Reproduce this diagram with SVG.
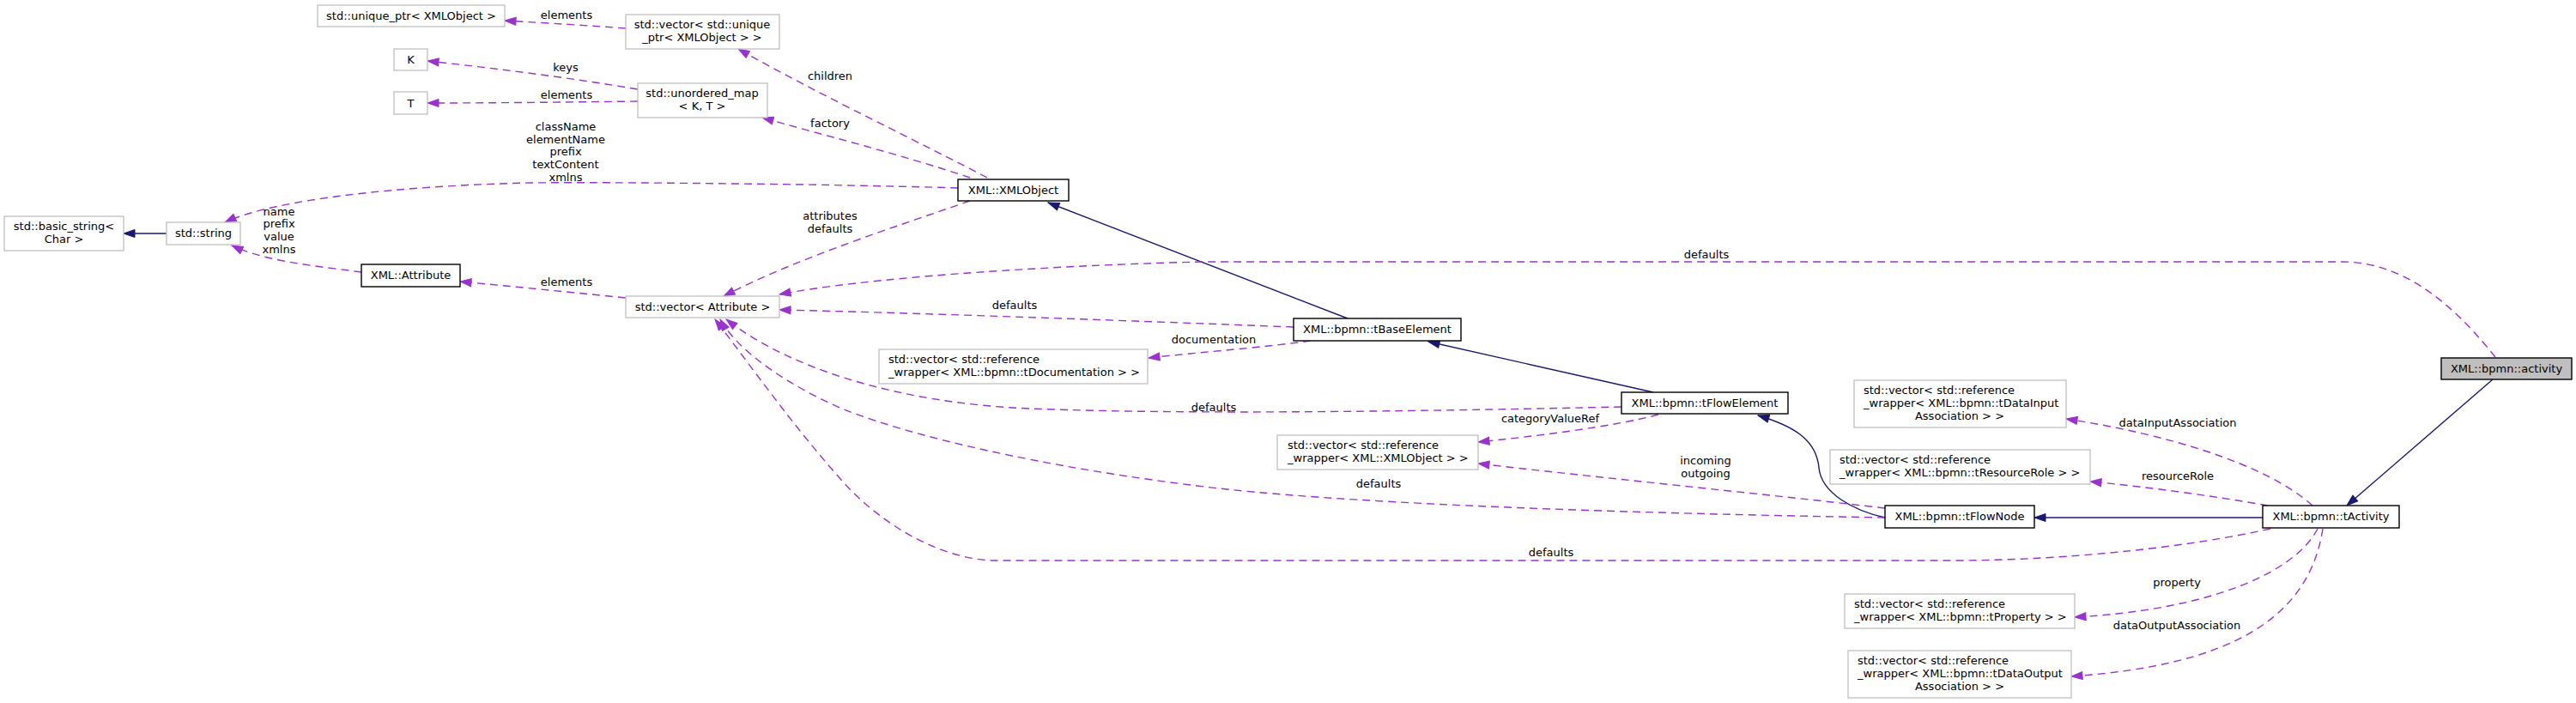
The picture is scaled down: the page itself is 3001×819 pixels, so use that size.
<svg xmlns="http://www.w3.org/2000/svg" width="3001" height="819" viewBox="0 0 3001 819">
<style>
text{font-family:"DejaVu Sans","Liberation Sans",sans-serif;font-size:13px;fill:#000}
.c{text-anchor:middle}
.s{text-anchor:start}
.g{fill:#fff;stroke:#bfbfbf;stroke-width:1.3}
.b{fill:#fff;stroke:#000;stroke-width:1.4}
.a{fill:#bfbfbf;stroke:#000;stroke-width:1.4}
.e{fill:none;stroke:#9a32cd;stroke-width:1.4;stroke-dasharray:9,6}
.i{fill:none;stroke:#191970;stroke-width:1.4}
</style>
<defs>
<marker id="mp" markerUnits="userSpaceOnUse" markerWidth="15" markerHeight="11" refX="14" refY="5.5" orient="auto">
<path d="M1,1 L14,5.5 L1,10 z" fill="#9a32cd" stroke="#9a32cd" stroke-width="1"/>
</marker>
<marker id="mn" markerUnits="userSpaceOnUse" markerWidth="15" markerHeight="11" refX="14" refY="5.5" orient="auto">
<path d="M1,1 L14,5.5 L1,10 z" fill="#191970" stroke="#191970" stroke-width="1"/>
</marker>
</defs>
<rect width="3001" height="819" fill="#fff"/>
<g id="edges">
<path class="e" marker-end="url(#mp)" d="M729,33 C690,30 640,27 588,24"/>
<path class="e" marker-end="url(#mp)" d="M1150,207 C1080,170 950,108 860,57"/>
<path class="e" marker-end="url(#mp)" d="M1130,207 C1050,180 950,155 888,137"/>
<path class="e" marker-end="url(#mp)" d="M743,104 C660,90 580,80 498,71"/>
<path class="e" marker-end="url(#mp)" d="M743,118 C660,119 580,120 498,120"/>
<path class="e" marker-end="url(#mp)" d="M1116,219 C950,214 700,212 620,213 C470,216 320,232 262,259"/>
<path class="e" marker-end="url(#mp)" d="M421,317 C370,310 310,305 270,286"/>
<path class="i" marker-end="url(#mn)" d="M194,272 L144,272"/>
<path class="e" marker-end="url(#mp)" d="M729,347 C660,340 600,334 536,328"/>
<path class="e" marker-end="url(#mp)" d="M1130,234 C1050,262 930,300 843,345"/>
<path class="i" marker-end="url(#mn)" d="M1570,371 L1221,236"/>
<path class="e" marker-end="url(#mp)" d="M1507,381 C1300,373 1050,364 908,361"/>
<path class="e" marker-end="url(#mp)" d="M1527,397 C1470,405 1400,410 1338,417"/>
<path class="i" marker-end="url(#mn)" d="M1926,457 L1664,398"/>
<path class="e" marker-end="url(#mp)" d="M1889,474 C1700,478 1400,484 1200,476 C1050,470 920,430 846,372"/>
<path class="e" marker-end="url(#mp)" d="M1932,483 C1880,497 1790,508 1722,515"/>
<path class="i" marker-end="url(#mn)" d="M2196,603 C2160,595 2122,575 2119,545 C2116,510 2085,495 2048,484"/>
<path class="e" marker-end="url(#mp)" d="M2196,592 C2050,575 1850,555 1722,540"/>
<path class="e" marker-end="url(#mp)" d="M2196,603 C1900,598 1600,588 1429,570 C1250,550 1080,515 983,477 C920,450 860,410 839,372"/>
<path class="i" marker-end="url(#mn)" d="M2636,603 L2370,603"/>
<path class="e" marker-end="url(#mp)" d="M2645,616 C2560,635 2420,653 2272,653 L1155,653 C1100,650 1040,620 990,570 C930,505 870,420 833,372"/>
<path class="e" marker-end="url(#mp)" d="M2907,416 C2870,370 2810,305 2729,305 L1400,305 C1200,310 1000,325 908,343"/>
<path class="i" marker-end="url(#mn)" d="M2904,442 L2734,589"/>
<path class="e" marker-end="url(#mp)" d="M2694,589 C2640,540 2520,505 2407,488"/>
<path class="e" marker-end="url(#mp)" d="M2642,589 C2580,578 2500,567 2435,561"/>
<path class="e" marker-end="url(#mp)" d="M2700,616 C2675,665 2580,710 2417,719"/>
<path class="e" marker-end="url(#mp)" d="M2706,616 C2690,720 2600,775 2413,788"/>
</g>
<g id="labels">
<text class="c" x="660" y="22">elements</text>
<text class="c" x="967" y="93">children</text>
<text class="c" x="659" y="83">keys</text>
<text class="c" x="660" y="115">elements</text>
<text class="c" x="967" y="148">factory</text>
<text class="c" x="659" y="152">className</text>
<text class="c" x="659" y="167">elementName</text>
<text class="c" x="659" y="181">prefix</text>
<text class="c" x="659" y="196">textContent</text>
<text class="c" x="659" y="211">xmlns</text>
<text class="c" x="325" y="251">name</text>
<text class="c" x="325" y="265">prefix</text>
<text class="c" x="325" y="280">value</text>
<text class="c" x="325" y="295">xmlns</text>
<text class="c" x="660" y="333">elements</text>
<text class="c" x="967" y="256">attributes</text>
<text class="c" x="967" y="271">defaults</text>
<text class="c" x="1988" y="301">defaults</text>
<text class="c" x="1182" y="360">defaults</text>
<text class="c" x="1414" y="400">documentation</text>
<text class="c" x="1414" y="479">defaults</text>
<text class="c" x="1806" y="492">categoryValueRef</text>
<text class="c" x="1987" y="541">incoming</text>
<text class="c" x="1987" y="556">outgoing</text>
<text class="c" x="1606" y="568">defaults</text>
<text class="c" x="1807" y="648">defaults</text>
<text class="c" x="2537" y="497">dataInputAssociation</text>
<text class="c" x="2537" y="559">resourceRole</text>
<text class="c" x="2536" y="683">property</text>
<text class="c" x="2536" y="733">dataOutputAssociation</text>
</g>
<g id="n_unique_ptr"><rect class="g" x="370" y="6" width="218" height="25"/><text class="c" x="479" y="23">std::unique_ptr&lt; XMLObject &gt;</text></g>
<g id="n_vec_unique"><rect class="g" x="729" y="17" width="179" height="40"/><text class="c" x="818" y="33">std::vector&lt; std::unique</text><text class="c" x="818" y="48">_ptr&lt; XMLObject &gt; &gt;</text></g>
<g id="n_K"><rect class="g" x="459" y="57" width="39" height="25"/><text class="c" x="478.5" y="74">K</text></g>
<g id="n_T"><rect class="g" x="459" y="107" width="39" height="26"/><text class="c" x="478.5" y="125">T</text></g>
<g id="n_unordered_map"><rect class="g" x="743" y="97" width="151" height="40"/><text class="c" x="818" y="113">std::unordered_map</text><text class="c" x="818" y="128">&lt; K, T &gt;</text></g>
<g id="n_basic_string"><rect class="g" x="5" y="252" width="139" height="40"/><text class="c" x="74.5" y="268">std::basic_string&lt;</text><text class="c" x="74.5" y="283">Char &gt;</text></g>
<g id="n_string"><rect class="g" x="194" y="259" width="86" height="26"/><text class="c" x="237" y="276">std::string</text></g>
<g id="n_attribute"><rect class="b" x="421" y="308" width="115" height="26"/><text class="c" x="478.5" y="325">XML::Attribute</text></g>
<g id="n_vec_attribute"><rect class="g" x="729" y="345" width="179" height="25"/><text class="c" x="818.5" y="362">std::vector&lt; Attribute &gt;</text></g>
<g id="n_xmlobject"><rect class="b" x="1116" y="209" width="129" height="25"/><text class="c" x="1180.5" y="226">XML::XMLObject</text></g>
<g id="n_tbaseelement"><rect class="b" x="1507" y="371" width="195" height="26"/><text class="c" x="1604.5" y="388">XML::bpmn::tBaseElement</text></g>
<g id="n_vec_tdocumentation"><rect class="g" x="1024" y="407" width="313" height="40"/><text class="s" x="1035" y="423">std::vector&lt; std::reference</text><text class="s" x="1035" y="438">_wrapper&lt; XML::bpmn::tDocumentation &gt; &gt;</text></g>
<g id="n_tflowelement"><rect class="b" x="1889" y="457" width="194" height="25"/><text class="c" x="1986" y="474">XML::bpmn::tFlowElement</text></g>
<g id="n_vec_xmlobject"><rect class="g" x="1488" y="507" width="234" height="40"/><text class="s" x="1500" y="523">std::vector&lt; std::reference</text><text class="s" x="1500" y="538">_wrapper&lt; XML::XMLObject &gt; &gt;</text></g>
<g id="n_tflownode"><rect class="b" x="2196" y="589" width="174" height="26"/><text class="c" x="2283" y="606">XML::bpmn::tFlowNode</text></g>
<g id="n_vec_tdatainput"><rect class="g" x="2160" y="443" width="247" height="55"/><text class="s" x="2171" y="459">std::vector&lt; std::reference</text><text class="s" x="2171" y="474">_wrapper&lt; XML::bpmn::tDataInput</text><text class="c" x="2283" y="489">Association &gt; &gt;</text></g>
<g id="n_vec_tresourcerole"><rect class="g" x="2132" y="524" width="303" height="40"/><text class="s" x="2143" y="540">std::vector&lt; std::reference</text><text class="s" x="2143" y="555">_wrapper&lt; XML::bpmn::tResourceRole &gt; &gt;</text></g>
<g id="n_tactivity"><rect class="b" x="2636" y="589" width="159" height="26"/><text class="c" x="2715.5" y="606">XML::bpmn::tActivity</text></g>
<g id="n_activity"><rect class="a" x="2844" y="417" width="152" height="25"/><text class="c" x="2920" y="434">XML::bpmn::activity</text></g>
<g id="n_vec_tproperty"><rect class="g" x="2149" y="692" width="268" height="40"/><text class="s" x="2160" y="708">std::vector&lt; std::reference</text><text class="s" x="2160" y="723">_wrapper&lt; XML::bpmn::tProperty &gt; &gt;</text></g>
<g id="n_vec_tdataoutput"><rect class="g" x="2153" y="758" width="260" height="55"/><text class="s" x="2164" y="774">std::vector&lt; std::reference</text><text class="s" x="2164" y="789">_wrapper&lt; XML::bpmn::tDataOutput</text><text class="c" x="2283" y="804">Association &gt; &gt;</text></g>
</svg>
